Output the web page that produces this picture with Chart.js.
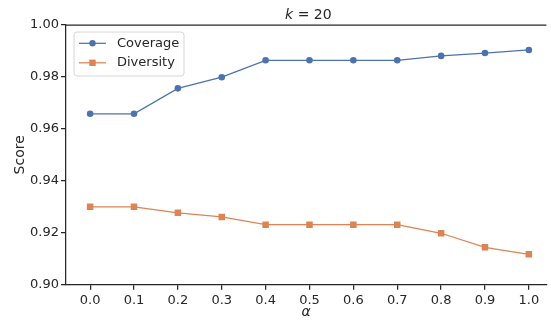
<!DOCTYPE html>
<html>
<head>
<meta charset="utf-8">
<script src="https://cdn.jsdelivr.net/npm/chart.js@4"></script>
<style>
  html, body { margin: 0; padding: 0; background: #fff; }
  #wrap { width: 551px; height: 321px; }
</style>
</head>
<body>
<div id="wrap"><canvas id="chartScore"></canvas></div>
<script>
// values
var alphas = [0.0, 0.1, 0.2, 0.3, 0.4, 0.5, 0.6, 0.7, 0.8, 0.9, 1.0];
var coverage = [0.9658, 0.9658, 0.9756, 0.9799, 0.9864, 0.9864, 0.9864, 0.9864, 0.9881, 0.9892, 0.9904];
var diversity = [0.9300, 0.9300, 0.9277, 0.9261, 0.9231, 0.9231, 0.9231, 0.9231, 0.9198, 0.9144, 0.9117];
var yTicks = [0.90, 0.92, 0.94, 0.96, 0.98, 1.00];
var seriesNames = ['Coverage', 'Diversity'];
var titleK = 'k';
var titleRest = ' = 20';

var ink = '#262626';
var font = 'DejaVu Sans';

function toPoints(vals) {
  return vals.map(function(v, i) { return {x: alphas[i], y: v}; });
}

// top spine, title with italic k, and matplotlib-like legend inside the axes
var decorations = {
  id: 'decorations',
  afterDraw: function(chart) {
    var ctx = chart.ctx;
    var area = chart.chartArea;
    var xs = chart.scales.x;
    ctx.save();

    // top spine
    ctx.strokeStyle = ink;
    ctx.lineWidth = 1.25;
    ctx.beginPath();
    ctx.moveTo(area.left, area.top);
    ctx.lineTo(area.right, area.top);
    ctx.stroke();

    // title
    var cx = (area.left + xs.getPixelForValue(1.05)) / 2;
    ctx.fillStyle = ink;
    ctx.textBaseline = 'middle';
    ctx.font = 'italic 14px "' + font + '"';
    var wk = ctx.measureText(titleK).width;
    ctx.font = '14px "' + font + '"';
    var wr = ctx.measureText(titleRest).width;
    var start = cx - (wk + wr) / 2;
    ctx.font = 'italic 14px "' + font + '"';
    ctx.textAlign = 'left';
    ctx.fillText(titleK, start, 15);
    ctx.font = '14px "' + font + '"';
    ctx.fillText(titleRest, start + wk, 15);

    // legend
    var bx = 74, by = 32, bw = 110, bh = 44, r = 3;
    ctx.fillStyle = 'rgba(255,255,255,0.8)';
    ctx.strokeStyle = '#d6d6d6';
    ctx.lineWidth = 1;
    ctx.beginPath();
    ctx.moveTo(bx + r, by);
    ctx.arcTo(bx + bw, by, bx + bw, by + bh, r);
    ctx.arcTo(bx + bw, by + bh, bx, by + bh, r);
    ctx.arcTo(bx, by + bh, bx, by, r);
    ctx.arcTo(bx, by, bx + bw, by, r);
    ctx.closePath();
    ctx.fill();
    ctx.stroke();

    chart.data.datasets.forEach(function(ds, i) {
      var y = 43.3 + i * 19.5;
      ctx.strokeStyle = ds.borderColor;
      ctx.lineWidth = 1.25;
      ctx.beginPath();
      ctx.moveTo(79, y);
      ctx.lineTo(106, y);
      ctx.stroke();
      ctx.fillStyle = ds.pointBackgroundColor;
      if (ds.pointStyle === 'rect') {
        ctx.fillRect(92.5 - 3.2, y - 3.2, 6.4, 6.4);
      } else {
        ctx.beginPath();
        ctx.arc(92.5, y, 3.2, 0, Math.PI * 2);
        ctx.fill();
      }
      ctx.fillStyle = ink;
      ctx.font = '13px "' + font + '"';
      ctx.textAlign = 'left';
      ctx.fillText(ds.label, 117, y);
    });

    ctx.restore();
  }
};

var config = {
  type: 'line',
  data: {
    datasets: [
      {
        label: seriesNames[0],
        data: toPoints(coverage),
        borderColor: '#4C72B0',
        backgroundColor: '#4C72B0',
        pointBackgroundColor: '#4C72B0',
        pointBorderWidth: 0,
        pointStyle: 'circle',
        pointRadius: 3.3,
        borderWidth: 1.25,
        tension: 0
      },
      {
        label: seriesNames[1],
        data: toPoints(diversity),
        borderColor: '#DD8452',
        backgroundColor: '#DD8452',
        pointBackgroundColor: '#DD8452',
        pointBorderWidth: 0,
        pointStyle: 'rect',
        pointRadius: 4.6,
        borderWidth: 1.25,
        tension: 0
      }
    ]
  },
  options: {
    responsive: true,
    maintainAspectRatio: false,
    animation: false,
    layout: { padding: { top: 25, right: 0, bottom: 0, left: 0 } },
    plugins: {
      legend: { display: false },
      title: { display: false },
      tooltip: { enabled: false }
    },
    scales: {
      x: {
        type: 'linear',
        min: -0.055,
        max: 1.04,
        afterBuildTicks: function(scale) {
          scale.ticks = alphas.map(function(v) { return {value: v}; });
        },
        afterFit: function(scale) { scale.height = 36.3; },
        grid: { drawOnChartArea: false, drawTicks: true, tickLength: 5, color: ink, lineWidth: 1.25 },
        border: { display: true, color: ink, width: 1.25 },
        ticks: {
          color: ink,
          padding: 3,
          maxRotation: 0,
          autoSkip: false,
          font: { family: font, size: 13 },
          callback: function(v) { return Number(v).toFixed(1); }
        },
        title: {
          display: true,
          text: 'α',
          color: ink,
          padding: { top: 0, bottom: 0 },
          font: { family: font, size: 14, style: 'italic' }
        }
      },
      y: {
        type: 'linear',
        min: 0.90,
        max: 1.00,
        afterBuildTicks: function(scale) {
          scale.ticks = yTicks.map(function(v) { return {value: v}; });
        },
        afterFit: function(scale) { scale.width = 66; },
        grid: { drawOnChartArea: false, drawTicks: true, tickLength: 5, color: ink, lineWidth: 1.25 },
        border: { display: true, color: ink, width: 1.25 },
        ticks: {
          color: ink,
          padding: 2,
          font: { family: font, size: 13 },
          callback: function(v) { return Number(v).toFixed(2); }
        },
        title: {
          display: true,
          text: 'Score',
          color: ink,
          padding: { top: 11.6, bottom: 0 },
          font: { family: font, size: 14 }
        }
      }
    }
  },
  plugins: [decorations]
};

var ctx = document.getElementById('chartScore').getContext('2d');
var scoreChart = new Chart(ctx, config);
</script>
</body>
</html>
